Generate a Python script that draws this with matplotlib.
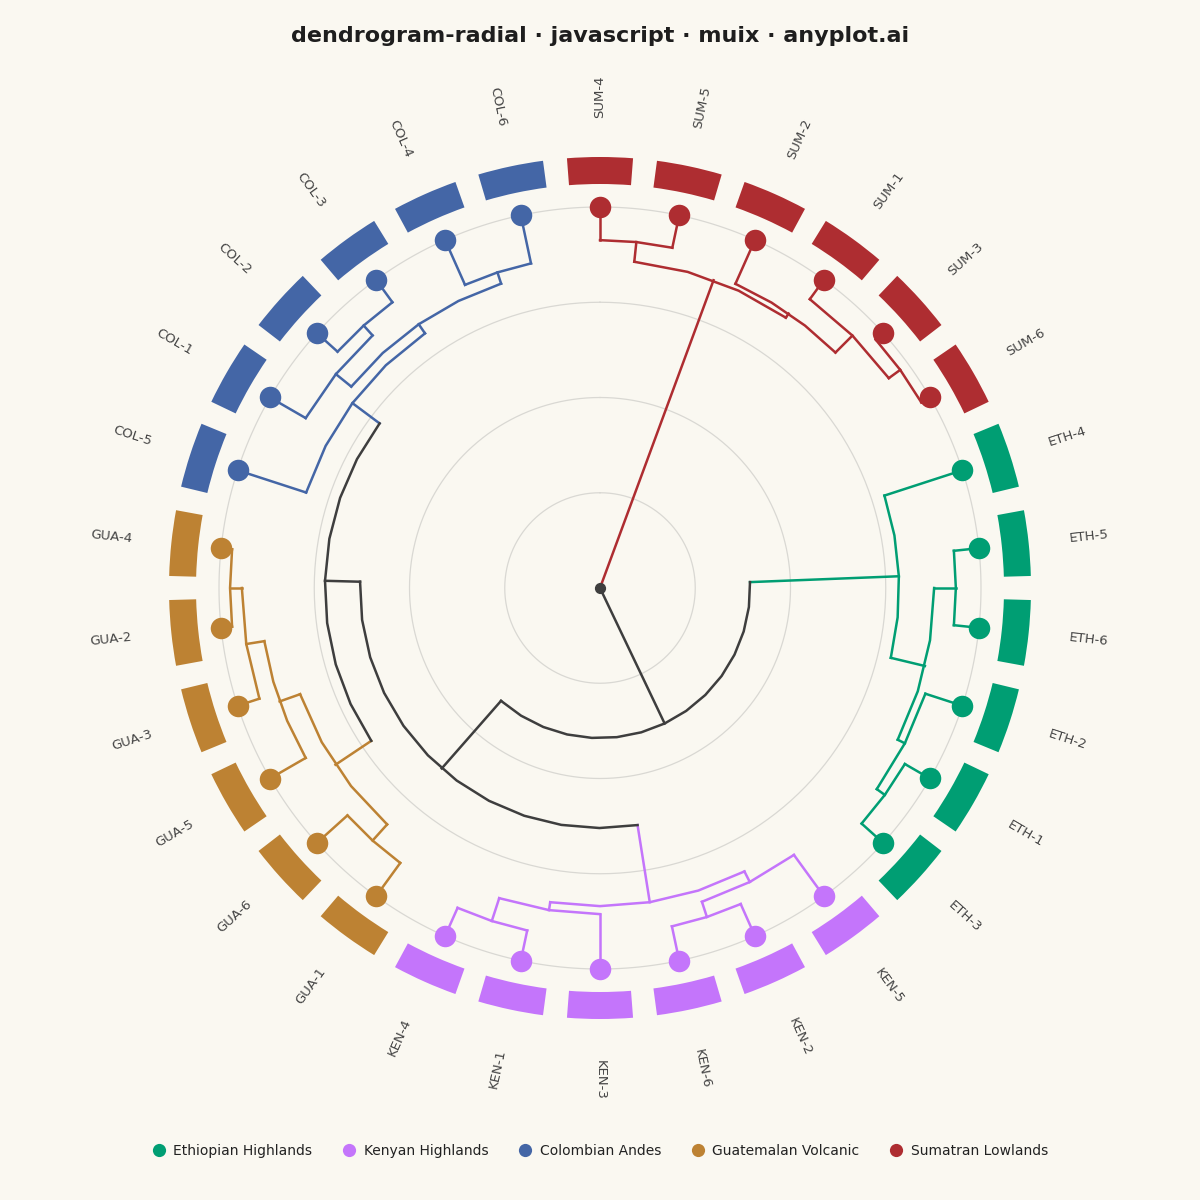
import numpy as np
import matplotlib.pyplot as plt
from matplotlib.patches import Wedge
from matplotlib.lines import Line2D

# leaf order around the circle, clockwise from the top
leaves = ['SUM-4', 'SUM-5', 'SUM-2', 'SUM-1', 'SUM-3', 'SUM-6',
          'ETH-4', 'ETH-5', 'ETH-6', 'ETH-2', 'ETH-1', 'ETH-3',
          'KEN-5', 'KEN-2', 'KEN-6', 'KEN-3', 'KEN-1', 'KEN-4',
          'GUA-1', 'GUA-6', 'GUA-5', 'GUA-3', 'GUA-2', 'GUA-4',
          'COL-5', 'COL-1', 'COL-2', 'COL-3', 'COL-4', 'COL-6']

group_names = ['Ethiopian Highlands', 'Kenyan Highlands', 'Colombian Andes',
               'Guatemalan Volcanic', 'Sumatran Lowlands']
group_codes = ['ETH', 'KEN', 'COL', 'GUA', 'SUM']
group_colors = ['#009E73', '#C475FB', '#4466A6', '#BD8233', '#AE2D31']

# merges: (child a, child b, height), internal nodes are n0, n1, ...
merges = [
    ('SUM-4', 'SUM-5', 0.087),   # n0
    ('SUM-3', 'SUM-6', 0.026),   # n1
    ('SUM-1', 'n1', 0.063),      # n2
    ('SUM-2', 'n2', 0.126),      # n3
    ('n0', 'n3', 0.139),         # n4
    ('ETH-5', 'ETH-6', 0.066),   # n5
    ('ETH-1', 'ETH-3', 0.076),   # n6
    ('ETH-2', 'n6', 0.102),      # n7
    ('n5', 'n7', 0.123),         # n8
    ('ETH-4', 'n8', 0.215),      # n9
    ('KEN-1', 'KEN-4', 0.081),   # n10
    ('KEN-3', 'n10', 0.144),     # n11
    ('KEN-2', 'KEN-6', 0.092),   # n12
    ('KEN-5', 'n12', 0.134),     # n13
    ('n13', 'n11', 0.165),       # n14
    ('GUA-2', 'GUA-4', 0.029),   # n15
    ('GUA-3', 'n15', 0.060),     # n16
    ('GUA-5', 'n16', 0.108),     # n17
    ('GUA-1', 'GUA-6', 0.108),   # n18
    ('n18', 'n17', 0.165),       # n19
    ('COL-4', 'COL-6', 0.129),   # n20
    ('COL-2', 'COL-3', 0.073),   # n21
    ('COL-1', 'n21', 0.108),     # n22
    ('n22', 'n20', 0.160),       # n23
    ('COL-5', 'n23', 0.189),     # n24
    ('n19', 'n24', 0.278),       # n25
    ('n14', 'n25', 0.370),       # n26
    ('n9', 'n26', 0.606),        # n27
    ('n4', 'n27', 1.0),          # n28
]

bg = '#FAF8F1'
dark = '#3E3E3E'
color_of = dict(zip(group_codes, group_colors))


def xy(r, th):
    t = np.radians(th)
    return r * np.sin(t), r * np.cos(t)


pos = {}
grp = {}
step = 360 / len(leaves)
for i, name in enumerate(leaves):
    pos[name] = (i * step, 1.0)
    grp[name] = name.split('-')[0]

fig = plt.figure(figsize=(12, 12), dpi=100, facecolor=bg)
ax = fig.add_axes([0, 0, 1, 1])
ax.set_facecolor(bg)
unit = 381
ax.set_xlim(-600 / unit, 600 / unit)
ax.set_ylim(-612 / unit, 588 / unit)
ax.set_aspect('equal')
ax.axis('off')

# grid circles
tt = np.linspace(0, 360, 361)
for rg in [0.25, 0.5, 0.75, 1.0]:
    gx, gy = xy(rg, tt)
    ax.plot(gx, gy, color='#D9D8D3', lw=0.9, zorder=1)

lw = 1.8
for k, (a, b, h) in enumerate(merges):
    name = 'n%d' % k
    ta, tb = pos[a][0], pos[b][0]
    rp = 1.0 - h
    pos[name] = ((ta + tb) / 2, rp)
    grp[name] = grp[a] if grp[a] == grp[b] else None
    # radial links from the children
    for c in (a, b):
        tc, rc = pos[c]
        col = color_of.get(grp[c], dark)
        lx, ly = xy(np.array([rc, rp]), np.array([tc, tc]))
        ax.plot(lx, ly, color=col, lw=lw, zorder=3)
    # arc at the parent radius
    lo, hi = min(ta, tb), max(ta, tb)
    n = max(1, int(np.ceil((hi - lo) / 10)))
    arc_t = np.linspace(lo, hi, n + 1)
    axx, ayy = xy(rp, arc_t)
    ax.plot(axx, ayy, color=color_of.get(grp[name], dark), lw=lw, zorder=3)

ax.scatter([0], [0], s=50, color=dark, zorder=5)

# leaves: dots, ring blocks and labels
for name in leaves:
    th, r = pos[name]
    col = color_of[grp[name]]
    px, py = xy(r, th)
    ax.scatter([px], [py], s=240, color=col, zorder=5, linewidths=0)
    ang = 90 - th
    ax.add_patch(Wedge((0, 0), 431 / unit, ang - 4.4, ang + 4.4,
                       width=27 / unit, color=col, lw=0, zorder=4))
    lx, ly = xy(1.29, th)
    rot = 90 - th if th <= 180 else 270 - th
    ax.text(lx, ly, name, rotation=rot, rotation_mode='anchor',
            ha='center', va='center', fontsize=9.5, color='#444444')

fig.text(0.5, 1 - 36 / 1200, 'dendrogram-radial · javascript · muix · anyplot.ai',
         ha='center', va='center', fontsize=16, fontweight='bold', color='#1E1E1E')

handles = [Line2D([], [], marker='o', linestyle='none', markersize=9.5,
                  markerfacecolor=c, markeredgewidth=0)
           for c in group_colors]
fig.legend(handles, group_names, loc='center', bbox_to_anchor=(0.5, 1 - 1151 / 1200),
           ncol=5, frameon=False, fontsize=10, handlelength=1.0,
           handletextpad=0.55, columnspacing=2.15, labelcolor='#222222')

fig.savefig('out.png', dpi=100, facecolor=bg)
